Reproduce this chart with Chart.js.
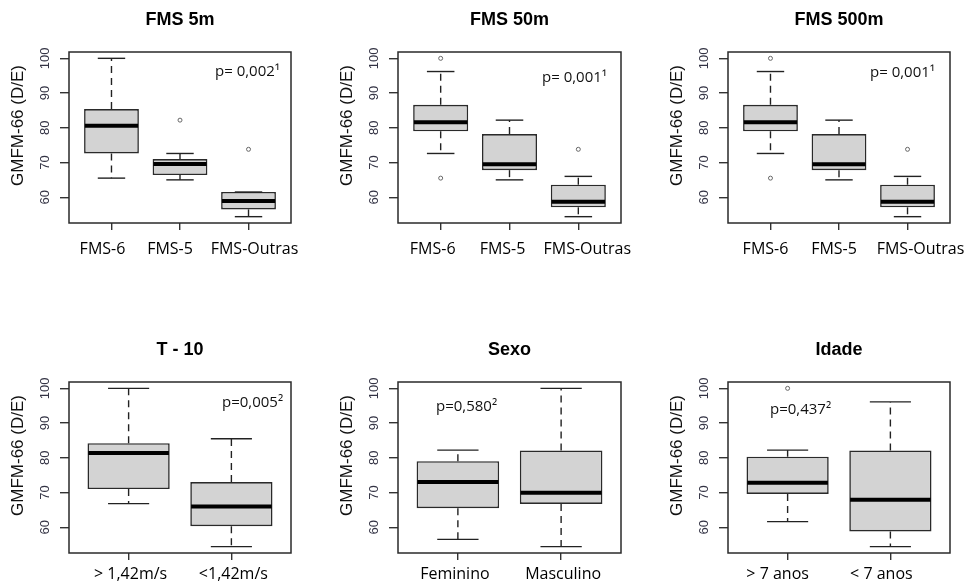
<!DOCTYPE html>
<html><head><meta charset="utf-8">
<script src="https://cdn.jsdelivr.net/npm/chart.js@4.4.0/dist/chart.umd.min.js"></script>
<style>
html,body{margin:0;padding:0;background:#fff;}
#wrap{position:relative;width:966px;height:584px;overflow:hidden;background:#fff;}
#wrap canvas{position:absolute;}
</style></head><body><div id="wrap"></div>
<script>
// ---------- data ----------
const yTicks = [60, 70, 80, 90, 100];
const yAxisTitle = 'GMFM-66 (D/E)';

const fmsCategories = ['FMS-6', 'FMS-5', 'FMS-Outras'];

const fms5mLower    = [65.5, 65.0, 54.4];
const fms5mQ1       = [72.6, 66.4, 56.5];
const fms5mMedian   = [80.6, 69.6, 58.9];
const fms5mQ3       = [85.4, 71.0, 61.5];
const fms5mUpper    = [100.0, 72.6, 61.5];
const fms5mOutliers = [[], [82.2], [73.8]];

const fms50mLower    = [72.6, 65.0, 54.4];
const fms50mQ1       = [79.0, 67.8, 57.1];
const fms50mMedian   = [81.6, 69.5, 58.7];
const fms50mQ3       = [86.6, 78.2, 63.6];
const fms50mUpper    = [96.2, 82.2, 66.0];
const fms50mOutliers = [[100.0, 65.5], [], [73.8]];

const fms500mLower    = [72.6, 65.0, 54.4];
const fms500mQ1       = [79.0, 67.8, 57.1];
const fms500mMedian   = [81.6, 69.5, 58.7];
const fms500mQ3       = [86.6, 78.2, 63.6];
const fms500mUpper    = [96.2, 82.2, 66.0];
const fms500mOutliers = [[100.0, 65.5], [], [73.8]];

const t10Categories = ['> 1,42m/s', '<1,42m/s'];
const t10Lower    = [66.8, 54.4];
const t10Q1       = [71.0, 60.3];
const t10Median   = [81.4, 66.0];
const t10Q3       = [84.2, 73.0];
const t10Upper    = [100.0, 85.5];
const t10Outliers = [[], []];

const sexoCategories = ['Feminino', 'Masculino'];
const sexoLower    = [56.5, 54.4];
const sexoQ1       = [65.5, 66.7];
const sexoMedian   = [73.0, 69.9];
const sexoQ3       = [79.0, 82.1];
const sexoUpper    = [82.2, 100.0];
const sexoOutliers = [[], []];

const idadeCategories = ['> 7 anos', '< 7 anos'];
const idadeLower    = [61.6, 54.4];
const idadeQ1       = [69.6, 58.8];
const idadeMedian   = [72.8, 67.9];
const idadeQ3       = [80.3, 82.1];
const idadeUpper    = [82.2, 96.1];
const idadeOutliers = [[100.0], []];

const panelTitles = ['FMS 5m', 'FMS 50m', 'FMS 500m', 'T - 10', 'Sexo', 'Idade'];
const pValueLabels = ['p= 0,002¹', 'p= 0,001¹', 'p= 0,001¹', 'p=0,005²', 'p=0,580²', 'p=0,437²'];

// ---------- layout ----------
const colCells = [[0, 322], [322, 644], [644, 966]];
const rowCells = [[0, 292], [292, 584]];
const colPlot = [[69, 291], [398, 621], [728, 950]];
const rowPlot = [[52, 223], [382, 553]];
const rowLabelBaseline = [31, 26];
const xLabelShift = [[-9, -10, 6], [-8, -7, 9], [-5, -5, 13], [2, 2], [-3, 2], [-10, -9]];
const pTextPos = [
  {anchor: 'right', dx: -76, dy: 20},
  {anchor: 'right', dx: -79, dy: 26},
  {anchor: 'right', dx: -80, dy: 21},
  {anchor: 'right', dx: -69, dy: 21},
  {anchor: 'left',  dx: 38,  dy: 25},
  {anchor: 'left',  dx: 42,  dy: 28}
];

const panelStats = [
  {cats: fmsCategories, lower: fms5mLower, q1: fms5mQ1, median: fms5mMedian, q3: fms5mQ3, upper: fms5mUpper, out: fms5mOutliers},
  {cats: fmsCategories, lower: fms50mLower, q1: fms50mQ1, median: fms50mMedian, q3: fms50mQ3, upper: fms50mUpper, out: fms50mOutliers},
  {cats: fmsCategories, lower: fms500mLower, q1: fms500mQ1, median: fms500mMedian, q3: fms500mQ3, upper: fms500mUpper, out: fms500mOutliers},
  {cats: t10Categories, lower: t10Lower, q1: t10Q1, median: t10Median, q3: t10Q3, upper: t10Upper, out: t10Outliers},
  {cats: sexoCategories, lower: sexoLower, q1: sexoQ1, median: sexoMedian, q3: sexoQ3, upper: sexoUpper, out: sexoOutliers},
  {cats: idadeCategories, lower: idadeLower, q1: idadeQ1, median: idadeMedian, q3: idadeQ3, upper: idadeUpper, out: idadeOutliers}
];

const Y_AXIS_W = 9;
const X_AXIS_H = 30;

const boxDecor = {
  id: 'boxDecor',
  afterDatasetsDraw(chart, args, o) {
    const {ctx, scales: {x, y}} = chart;
    const meta = chart.getDatasetMeta(0);
    const line = (x1, y1, x2, y2) => { ctx.beginPath(); ctx.moveTo(x1, y1); ctx.lineTo(x2, y2); ctx.stroke(); };
    ctx.save();
    o.stats.median.forEach((m, i) => {
      const bar = meta.data[i];
      const cx = x.getPixelForValue(i + 1);
      const half = bar.width / 2;
      const yUp = y.getPixelForValue(o.stats.upper[i]);
      const yLo = y.getPixelForValue(o.stats.lower[i]);
      const yQ1 = y.getPixelForValue(o.stats.q1[i]);
      const yQ3 = y.getPixelForValue(o.stats.q3[i]);
      const yM = y.getPixelForValue(m);
      ctx.strokeStyle = '#222';
      ctx.lineWidth = 1.4;
      ctx.setLineDash([7, 5]);
      if (yUp < yQ3) line(cx, yQ3, cx, yUp);
      if (yLo > yQ1) line(cx, yQ1, cx, yLo);
      ctx.setLineDash([]);
      line(cx - half / 2, yUp, cx + half / 2, yUp);
      line(cx - half / 2, yLo, cx + half / 2, yLo);
      ctx.strokeStyle = '#000';
      ctx.lineWidth = 4;
      line(cx - half + 0.8, yM, cx + half - 0.8, yM);
    });
    ctx.restore();
  },
  afterDraw(chart, args, o) {
    const {ctx, chartArea: a, scales: {x, y}} = chart;
    ctx.save();
    ctx.strokeStyle = '#2a2a2a';
    ctx.lineWidth = 1.5;
    ctx.strokeRect(a.left, a.top, a.right - a.left, a.bottom - a.top);
    // x category labels
    ctx.fillStyle = '#000';
    ctx.font = '16px "Open Sans", sans-serif';
    ctx.textAlign = 'center';
    ctx.textBaseline = 'alphabetic';
    x.ticks.forEach((t, i) => {
      const px = x.getPixelForValue(t.value) + o.xShift[i];
      ctx.fillText(o.stats.cats[i], px, a.bottom + o.xBase);
    });
    // rotated y tick labels
    ctx.fillStyle = '#333344';
    ctx.font = '13px "Liberation Sans", Arial, sans-serif';
    ctx.textBaseline = 'middle';
    y.ticks.forEach(t => {
      const py = y.getPixelForValue(t.value);
      ctx.save();
      ctx.translate(a.left - 24, py);
      ctx.rotate(-Math.PI / 2);
      ctx.fillText(String(t.value), 0, 0);
      ctx.restore();
    });
    // y axis title
    ctx.fillStyle = '#111';
    ctx.font = '17px "Liberation Sans", Arial, sans-serif';
    ctx.save();
    ctx.translate(a.left - 51, (a.top + a.bottom) / 2 - 12);
    ctx.rotate(-Math.PI / 2);
    ctx.fillText(o.yTitle, 0, 0);
    ctx.restore();
    // main title
    ctx.fillStyle = '#000';
    ctx.font = 'bold 18px "Liberation Sans", Arial, sans-serif';
    ctx.fillText(o.title, (a.left + a.right) / 2, a.top - 32);
    // p value
    ctx.font = '15px "Open Sans", sans-serif';
    ctx.textAlign = 'left';
    ctx.fillStyle = '#111';
    const px = o.pPos.anchor === 'right' ? a.right + o.pPos.dx : a.left + o.pPos.dx;
    ctx.fillText(o.pText, px, a.top + o.pPos.dy);
    ctx.restore();
  }
};

const wrap = document.getElementById('wrap');

panelStats.forEach((s, k) => {
  const col = k % 3, row = Math.floor(k / 3);
  const [cL, cR] = colCells[col], [cT, cB] = rowCells[row];
  const [pL, pR] = colPlot[col], [pT, pB] = rowPlot[row];
  const cv = document.createElement('canvas');
  cv.width = cR - cL; cv.height = cB - cT;
  cv.style.left = cL + 'px'; cv.style.top = cT + 'px';
  cv.style.width = (cR - cL) + 'px'; cv.style.height = (cB - cT) + 'px';
  wrap.appendChild(cv);

  const n = s.cats.length;
  const allVals = [].concat(s.lower, s.upper, ...s.out);
  const lo = Math.min(...allVals), hi = Math.max(...allVals);
  const yPad = 0.04 * (hi - lo);
  const xPad = 0.04 * n;

  const boxData = s.cats.map((c, i) => ({x: i + 1, y: [s.q1[i], s.q3[i]]}));
  const outData = [];
  s.out.forEach((arr, i) => arr.forEach(v => outData.push({x: i + 1, y: v})));

  new Chart(cv, {
    data: {
      datasets: [
        {type: 'bar', data: boxData, backgroundColor: '#d3d3d3', borderColor: '#2a2a2a',
         borderWidth: 1.6, borderSkipped: false, barPercentage: 0.8, categoryPercentage: 1, order: 2},
        {type: 'scatter', data: outData, pointRadius: 2, pointBorderColor: '#666',
         pointBackgroundColor: 'rgba(0,0,0,0)', pointBorderWidth: 1, order: 1}
      ]
    },
    options: {
      responsive: false,
      animation: false,
      events: [],
      layout: {padding: {left: pL - cL - Y_AXIS_W, right: cR - pR, top: pT - cT, bottom: cB - pB - X_AXIS_H}},
      plugins: {
        legend: {display: false},
        tooltip: {enabled: false},
        boxDecor: {stats: s, title: panelTitles[k], pText: pValueLabels[k], pPos: pTextPos[k],
                   yTitle: yAxisTitle, xShift: xLabelShift[k], xBase: rowLabelBaseline[row]}
      },
      scales: {
        x: {
          type: 'linear', min: 0.5 - xPad, max: n + 0.5 + xPad, offset: false, bounds: 'data',
          afterBuildTicks: sc => { sc.ticks = s.cats.map((c, i) => ({value: i + 1})); },
          afterFit: sc => { sc.height = X_AXIS_H; },
          ticks: {display: false, autoSkip: false, maxRotation: 0, minRotation: 0},
          grid: {offset: false, drawOnChartArea: false, drawTicks: true, tickLength: 7, color: '#333', lineWidth: 1.4},
          border: {display: false}
        },
        y: {
          type: 'linear', min: lo - yPad, max: hi + yPad,
          afterBuildTicks: sc => { sc.ticks = yTicks.map(v => ({value: v})); },
          afterFit: sc => { sc.width = Y_AXIS_W; },
          ticks: {display: false},
          grid: {drawOnChartArea: false, drawTicks: true, tickLength: 9, color: '#333', lineWidth: 1.4},
          border: {display: false}
        }
      }
    },
    plugins: [boxDecor]
  });
});
</script></body></html>
